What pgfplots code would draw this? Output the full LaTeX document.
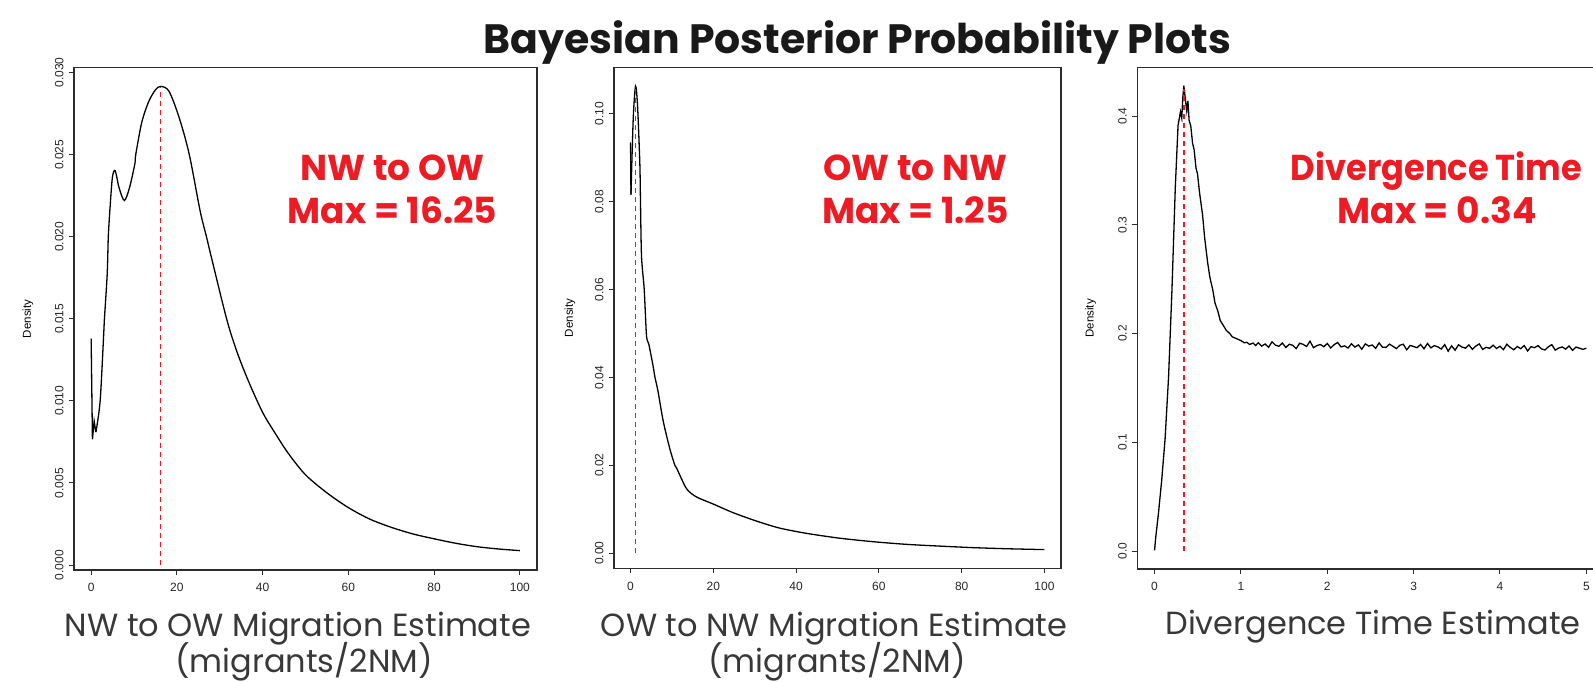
\documentclass[border=0pt]{standalone}
\usepackage{fontspec}
\setmainfont{Liberation Sans}
\newfontfamily\gothic{Poppins}
\usepackage{pgfplots}
\pgfplotsset{compat=1.18}
\definecolor{annred}{RGB}{237,28,36}
\definecolor{rred}{RGB}{245,20,30}
\definecolor{frame}{RGB}{45,45,45}

\pgfplotsset{rstyle/.style={
  scale only axis, anchor=south west,
  axis line style={frame, line width=1.2pt},
  tick align=outside, tick pos=left,
  major tick length=5pt,
  every tick/.style={frame, line width=1pt},
  /pgf/number format/assume math mode=true,
  tick label style={font=\fontsize{12}{14}\selectfont, text=black!85},
  yticklabel style={rotate=90, anchor=south},
  xticklabel shift=5pt,
  yticklabel shift=2pt,
  scaled y ticks=false,
  ylabel={Density},
  ylabel style={font=\fontsize{11.5}{13}\selectfont, anchor=center, rotate=0},
  redline/.style={draw=rred, line width=1.2pt, dash pattern=on 5pt off 4pt},
}}

\begin{document}
\begin{tikzpicture}[x=1pt,y=1pt]
\path[use as bounding box] (0,0) rectangle (1593,682);
\clip (0,0) rectangle (1593,682);

% Panel 1
\begin{axis}[rstyle, at={(74pt,112pt)}, width=463pt, height=502.3pt,
  xmin=-4, xmax=104, ymin=-0.0003, ymax=0.0303,
  xtick={0,20,40,60,80,100},
  ytick={0,0.005,0.01,0.015,0.02,0.025,0.03},
  yticklabel style={/pgf/number format/fixed, /pgf/number format/fixed zerofill, /pgf/number format/precision=3},
  ylabel style={at={(axis description cs:-0.0994,0.5)}}]
\addplot[black, line width=1.3pt] coordinates {
(0,0.01379) (0.3,0.00766) (0.7,0.00877) (1.1,0.0081)};
\addplot[black, line width=1.3pt, smooth, tension=0.5] coordinates {
(1.1,0.0081) (2.1,0.0100) (2.95,0.0142)
(3.1,0.0150) (3.75,0.01776) (4.0,0.0200) (4.4,0.02173) (4.95,0.0236) (5.6,0.02403)
(6.5,0.0230) (7.75,0.02221) (8.96,0.0230) (10.2,0.02445) (10.4,0.0250) (11.8,0.02696)
(13.4,0.02822) (15.0,0.02895) (16.25,0.02916) (18.2,0.02885) (20.6,0.0272)
(22.9,0.0250) (25.4,0.0216) (26.9,0.0200) (28.0,0.0188) (31.6,0.0150) (34.0,0.0130)
(36.7,0.0112) (40.0,0.0093) (43.0,0.0080) (46.0,0.0068) (50.0,0.0055) (55.0,0.0044)
(60.0,0.0035) (65.0,0.0028) (70.0,0.0023) (75.0,0.0019) (80.0,0.0016) (85.0,0.00133)
(90.0,0.00112) (95.0,0.00098) (100,0.00088)};
\addplot[redline] coordinates {(16.25,0) (16.25,0.0291)};
\end{axis}

% Panel 2
\begin{axis}[rstyle, at={(614pt,113.5pt)}, width=447pt, height=501.3pt,
  xmin=-4, xmax=104, ymin=-0.0035, ymax=0.1106,
  xtick={0,20,40,60,80,100},
  ytick={0,0.02,0.04,0.06,0.08,0.1},
  yticklabel style={/pgf/number format/fixed, /pgf/number format/fixed zerofill, /pgf/number format/precision=2},
  ylabel style={at={(axis description cs:-0.0984,0.5)}}]
\addplot[black, line width=1.3pt] coordinates {(0,0.0935) (0.1,0.0816)};
\addplot[black, line width=1.3pt, smooth, tension=0.45] coordinates {
(0.1,0.0816) (0.64,0.0988) (1.2,0.1063) (1.68,0.1020) (2.24,0.0887)
(2.4,0.0800) (2.65,0.0675) (3.3,0.0600) (3.85,0.0495) (4.4,0.0476) (5.46,0.0425)
(5.9,0.0400) (6.6,0.0370) (7.9,0.0300) (9.5,0.0237) (10.7,0.0200) (11.1,0.0194)
(13.5,0.0147) (15.9,0.0128) (19.9,0.0112) (24.8,0.0092) (30.4,0.0073) (36.0,0.0057)
(42.5,0.0045) (50.5,0.0034) (58.6,0.0026) (66.6,0.0020) (74.6,0.0016) (82.7,0.00125)
(90.7,0.0010) (100,0.0008)};
\addplot[redline] coordinates {(1.25,0) (1.25,0.1058)};
\end{axis}

% Panel 3
\begin{axis}[rstyle, at={(1137.3pt,113pt)}, width=466.3pt, height=501.3pt,
  xmin=-0.2, xmax=5.2, ymin=-0.0165, ymax=0.4445,
  xtick={0,1,2,3,4,5},
  ytick={0,0.1,0.2,0.3,0.4},
  yticklabel style={/pgf/number format/fixed, /pgf/number format/fixed zerofill, /pgf/number format/precision=1},
  ylabel style={at={(axis description cs:-0.1,0.5)}}]
\addplot[black, line width=1.3pt] coordinates {
(0,0.0006) (0.012,0.0117) (0.044,0.034) (0.083,0.0655) (0.122,0.1035) (0.162,0.160)
(0.201,0.2396) (0.24,0.3345) (0.272,0.3915) (0.3,0.404) (0.315,0.398) (0.327,0.417) (0.339,0.428)
(0.359,0.4137) (0.372,0.405) (0.386,0.414) (0.40,0.396) (0.419,0.391) (0.44,0.375) (0.458,0.369) (0.48,0.352)
(0.497,0.347) (0.52,0.330) (0.556,0.309) (0.58,0.288) (0.615,0.265) (0.64,0.252) (0.674,0.240) (0.70,0.228)
(0.733,0.2206) (0.76,0.212) (0.792,0.208) (0.83,0.203) (0.871,0.200) (0.90,0.197) (0.95,0.1953)
(1.00,0.1935) (1.04,0.1915) (1.068,0.1920) (1.10,0.1900) (1.14,0.1912) (1.17,0.1890)
(1.20,0.1915) (1.24,0.1885) (1.28,0.1904) (1.32,0.1874) (1.36,0.1924) (1.40,0.1893)
(1.44,0.1883) (1.48,0.1913) (1.52,0.1872) (1.56,0.1902) (1.60,0.1892) (1.64,0.1862)
(1.68,0.1911) (1.72,0.1901) (1.76,0.1881) (1.80,0.1930) (1.84,0.1870) (1.88,0.1890)
(1.92,0.1899) (1.96,0.1879) (2.00,0.1909) (2.04,0.1868) (2.08,0.1898) (2.12,0.1918)
(2.16,0.1877) (2.20,0.1887) (2.24,0.1867) (2.28,0.1906) (2.32,0.1876) (2.36,0.1896)
(2.40,0.1856) (2.44,0.1905) (2.48,0.1885) (2.52,0.1895) (2.56,0.1864) (2.60,0.1914)
(2.64,0.1874) (2.68,0.1873) (2.72,0.1903) (2.76,0.1883) (2.80,0.1862) (2.84,0.1892)
(2.88,0.1902) (2.92,0.1851) (2.96,0.1891) (3.00,0.1881) (3.04,0.1870) (3.08,0.1900)
(3.12,0.1860) (3.16,0.1909) (3.20,0.1869) (3.24,0.1889) (3.28,0.1878) (3.32,0.1858)
(3.36,0.1898) (3.40,0.1838) (3.44,0.1887) (3.48,0.1847) (3.52,0.1897) (3.56,0.1876)
(3.60,0.1866) (3.64,0.1896) (3.68,0.1855) (3.72,0.1885) (3.76,0.1905) (3.80,0.1854)
(3.84,0.1874) (3.88,0.1864) (3.92,0.1893) (3.96,0.1863) (4.00,0.1883) (4.04,0.1852)
(4.08,0.1902) (4.12,0.1872) (4.16,0.1851) (4.20,0.1881) (4.24,0.1861) (4.28,0.1890)
(4.32,0.1840) (4.36,0.1880) (4.40,0.1870) (4.44,0.1889) (4.48,0.1859) (4.52,0.1849)
(4.56,0.1878) (4.60,0.1898) (4.64,0.1848) (4.68,0.1867) (4.72,0.1877) (4.76,0.1857)
(4.80,0.1886) (4.84,0.1846) (4.88,0.1876) (4.92,0.1865) (4.96,0.1855) (5.00,0.1865)};
\addplot[redline] coordinates {(0.34,0) (0.34,0.4248)};
\end{axis}

% Title
\node[anchor=base, inner sep=0pt, font=\gothic\bfseries\fontsize{41}{48}\selectfont, text=black!90] at (857.5,628) {Bayesian Posterior Probability Plots};

% Red annotations
\begin{scope}[every node/.style={anchor=base, inner sep=0pt, text=annred, font=\gothic\bfseries\fontsize{36}{42}\selectfont}]
\node at (392.6,501.1) {NW to OW};
\node at (392.6,458) {Max = 16.25};
\node at (915.5,501.1) {OW to NW};
\node at (915.5,458) {Max = 1.25};
\node at (1436.5,501.1) {\scalebox{0.935}[1]{Divergence Time}};
\node at (1437,458) {Max = 0.34};
\end{scope}

% Axis titles
\begin{scope}[every node/.style={anchor=base, inner sep=0pt, text=black!78, font=\gothic\fontsize{32}{38}\selectfont}]
\node at (298,45.3) {NW to OW Migration Estimate};
\node at (304,9) {(migrants/2NM)};
\node at (834,45.3) {OW to NW Migration Estimate};
\node at (837,9) {(migrants/2NM)};
\node at (1373,47) {Divergence Time Estimate};
\end{scope}
\end{tikzpicture}
\end{document}
